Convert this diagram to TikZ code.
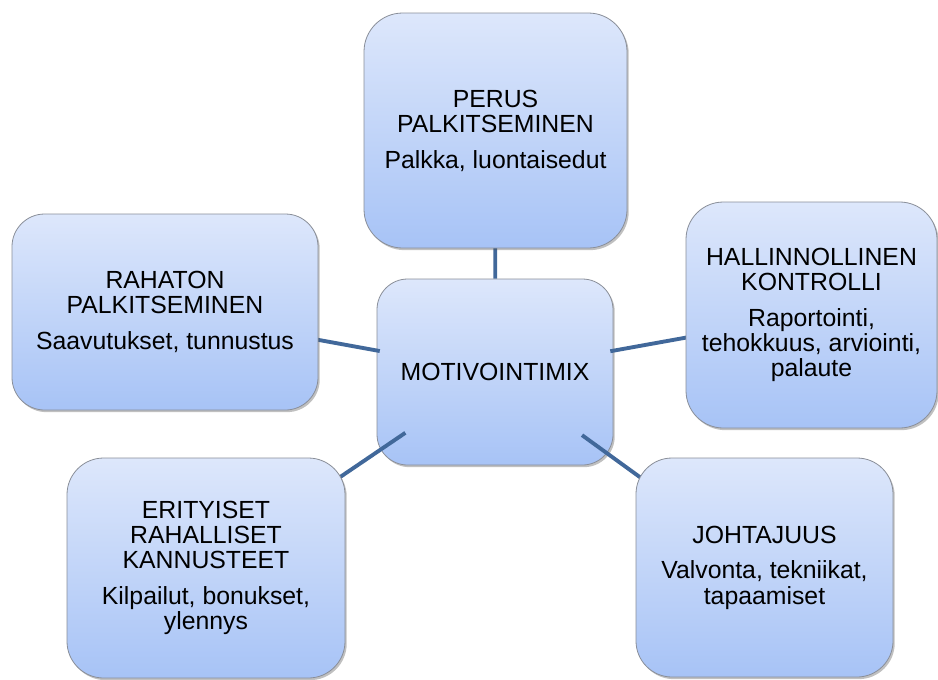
\documentclass[tikz,border=0pt]{standalone}
\usepackage{fontspec}
\setmainfont{Liberation Sans}
\usetikzlibrary{shadows,shapes.geometric}
\pgfdeclarelayer{bg}
\pgfdeclarelayer{lines}
\pgfsetlayers{bg,lines,main}
\definecolor{boxtop}{HTML}{DDE7FB}
\definecolor{boxbot}{HTML}{A7C3F6}
\definecolor{boxline}{HTML}{8A8F99}
\definecolor{linkblue}{HTML}{41689A}
\tikzset{
  box/.style={draw=boxline, line width=0.6pt, top color=boxtop, bottom color=boxbot,
    align=center, inner sep=0pt, text=black,
    font=\fontsize{18.6}{18.9}\selectfont,
    drop shadow={shadow xshift=1.3pt, shadow yshift=-1.6pt, opacity=0.35, fill=black!70}},
  link/.style={draw=linkblue, line width=2.9pt}
}
\begin{document}
\begin{tikzpicture}[x=0.75pt,y=-0.75pt]
\useasboundingbox (0,0) rectangle (938,679);

\node[box, rounded corners=29pt, minimum width=197.25pt, minimum height=176.25pt] (top) at (495.5,130.5)
  {PERUS\\PALKITSEMINEN\\[8pt]Palkka, luontaisedut};
\node[box, rounded corners=28pt, minimum width=188.25pt, minimum height=169.5pt] (hal) at (811.5,315)
  {HALLINNOLLINEN\\KONTROLLI\\[8pt]Raportointi,\\tehokkuus, arviointi,\\palaute};
\node[box, rounded corners=27pt, minimum width=192.75pt, minimum height=164.25pt] (joh) at (764.5,567.5)
  {JOHTAJUUS\\[8pt]Valvonta, tekniikat,\\tapaamiset};
\node[box, rounded corners=24.5pt, minimum width=229.5pt, minimum height=147pt] (rah) at (165,312)
  {RAHATON\\PALKITSEMINEN\\[8pt]Saavutukset, tunnustus};
\node[box, rounded corners=27.5pt, minimum width=208.5pt, minimum height=165pt] (eri) at (206,568)
  {ERITYISET\\RAHALLISET\\KANNUSTEET\\[8pt]Kilpailut, bonukset,\\ylennys};

\begin{pgfonlayer}{bg}
\fill[white] (0,0) rectangle (938,679);
\node[box, rounded corners=23pt, minimum width=177pt, minimum height=139.5pt] (c) at (495,372) {MOTIVOINTIMIX};
\node[ellipse, inner sep=0pt, minimum width=177pt, minimum height=139.5pt] (ce) at (c.center) {};
\end{pgfonlayer}

\begin{pgfonlayer}{lines}
\draw[link] (ce) -- (top.center);
\draw[link] (ce) -- (hal.center);
\draw[link] (ce) -- (joh.center);
\draw[link] (ce) -- (rah.center);
\draw[link] (ce) -- (eri.center);
\end{pgfonlayer}
\end{tikzpicture}
\end{document}
